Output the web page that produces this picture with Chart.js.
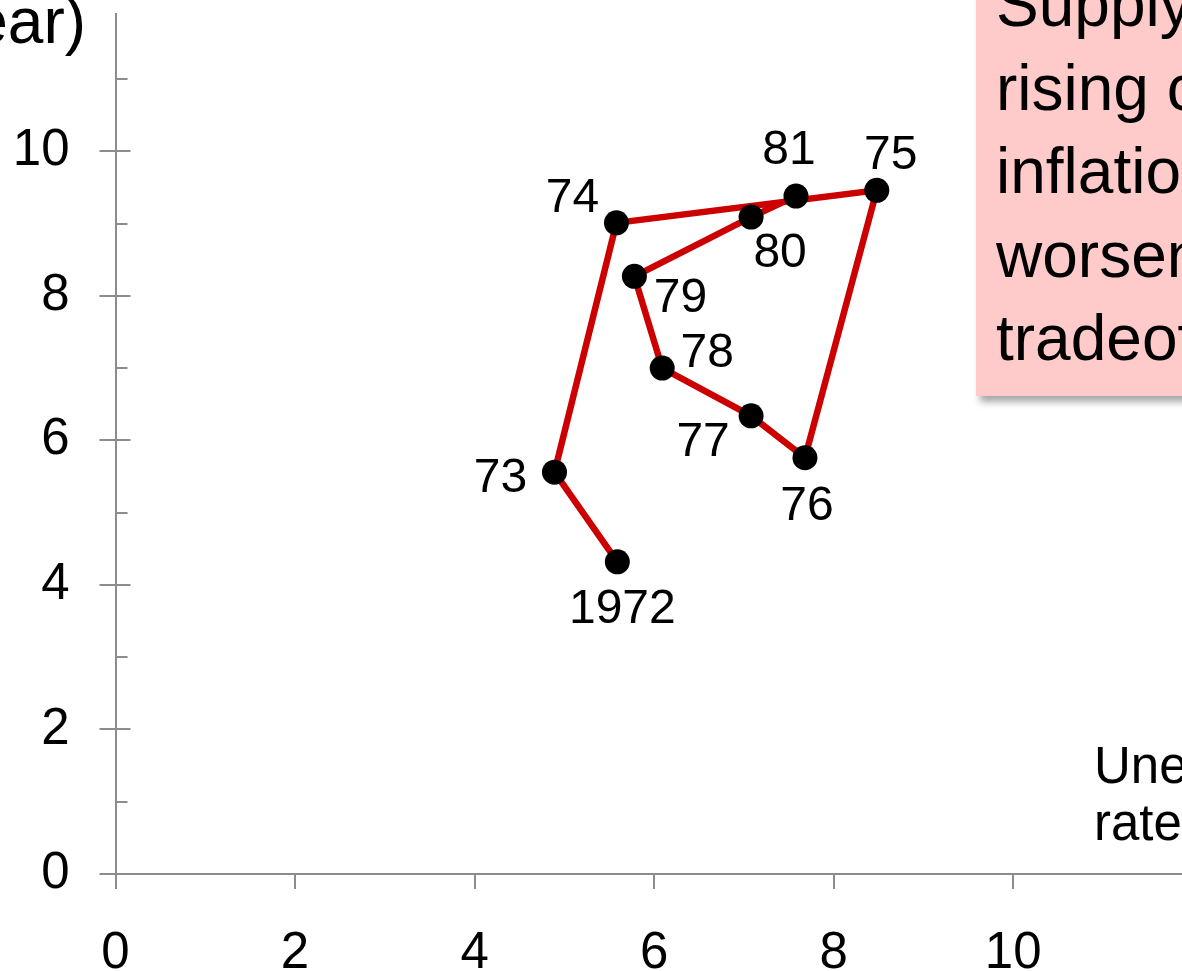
<!DOCTYPE html>
<html>
<head>
<meta charset="utf-8">
<title>Inflation and unemployment, 1972–81</title>
<script src="https://cdn.jsdelivr.net/npm/chart.js@4.4.1/dist/chart.umd.min.js"></script>
<style>
  html, body { margin: 0; padding: 0; background: #ffffff; overflow: hidden; }
  #wrap { position: relative; width: 1182px; height: 971px; overflow: hidden; }
  #chart { position: absolute; left: 0; top: 0; }
  .txt { position: absolute; font-family: "Liberation Sans", Arial, sans-serif; color: #000; white-space: nowrap; }
  #ytitle { right: 1096px; top: -15px; font-size: 64px; line-height: 72px; text-align: right; }
  #xtitle { left: 1094px; top: 737px; font-size: 51px; line-height: 57px; }
  #note {
    position: absolute; left: 976px; top: -120px; width: 420px; height: 516px;
    background: #ffcaca; box-shadow: 4px 6px 7px rgba(0,0,0,0.35);
  }
  #notetext { left: 996px; top: -37px; font-size: 64px; line-height: 83.5px; }
</style>
</head>
<body>
<div id="wrap">
  <canvas id="chart" width="1182" height="971"></canvas>
  <div id="ytitle" class="txt">Inflation rate (% per year)</div>
  <div id="xtitle" class="txt">Unemployment<br>rate (%)</div>
  <div id="note"></div>
  <div id="notetext" class="txt">Supply shocks:<br>rising costs,<br>inflation and<br>worsening<br>tradeoff</div>
</div>
<script>
// Years shown beside each point
const years = ['1972', '73', '74', '75', '76', '77', '78', '79', '80', '81'];
// Unemployment rate (%), x values
const unemployment = [5.59, 4.89, 5.58, 8.48, 7.68, 7.08, 6.09, 5.78, 7.08, 7.58];
// Inflation rate (% per year), y values
const inflation = [4.32, 5.56, 9.01, 9.46, 5.76, 6.34, 7.00, 8.27, 9.09, 9.38];
// Axis tick values
const xTicks = [0, 2, 4, 6, 8, 10];
const yTicks = [0, 2, 4, 6, 8, 10];
const yMinorTicks = [1, 3, 5, 7, 9, 11];

// Where each year label sits relative to its point (px)
const labelOffsets = [[5, 46], [-54, 5], [-44, -26], [14, -37], [2, 47],
                      [-48, 25], [45, -16], [46, 20], [29, 35], [-7, -47]];

const FONT = '"Liberation Sans", Arial, sans-serif';
const AXIS_GREY = '#8c8c8c';

const points = unemployment.map((u, i) => ({ x: u, y: inflation[i] }));

// Fixed axis box sizes, no extra padding for edge labels
function fixSize(prop, size) {
  return s => {
    s[prop] = size;
    s.paddingTop = 0; s.paddingBottom = 0; s.paddingLeft = 0; s.paddingRight = 0;
  };
}

// Tick marks: majors cross the y axis, minors sit inside, x ticks hang below
const tickMarks = {
  id: 'tickMarks',
  afterDraw(chart) {
    const { ctx, scales: { x, y } } = chart;
    const ax = x.getPixelForValue(0);
    const ay = y.getPixelForValue(0);
    ctx.save();
    ctx.strokeStyle = AXIS_GREY;
    ctx.lineWidth = 2;
    ctx.beginPath();
    yTicks.forEach(v => {
      const py = Math.round(y.getPixelForValue(v));
      ctx.moveTo(ax - 16, py); ctx.lineTo(ax + 15, py);
    });
    yMinorTicks.forEach(v => {
      const py = Math.round(y.getPixelForValue(v));
      ctx.moveTo(ax, py); ctx.lineTo(ax + 12, py);
    });
    xTicks.forEach(v => {
      const px = Math.round(x.getPixelForValue(v));
      ctx.moveTo(px, ay); ctx.lineTo(px, ay + 15);
    });
    ctx.stroke();
    ctx.restore();
  }
};

// Year labels next to each point
const yearLabels = {
  id: 'yearLabels',
  afterDatasetsDraw(chart) {
    const { ctx } = chart;
    const meta = chart.getDatasetMeta(0);
    ctx.save();
    ctx.fillStyle = '#000';
    ctx.font = '48px ' + FONT;
    ctx.textAlign = 'center';
    ctx.textBaseline = 'middle';
    meta.data.forEach((el, i) => {
      const [dx, dy] = labelOffsets[i];
      ctx.fillText(years[i], el.x + dx, el.y + dy + 2);
    });
    ctx.restore();
  }
};

new Chart(document.getElementById('chart'), {
  type: 'scatter',
  data: {
    datasets: [{
      data: points,
      showLine: true,
      borderColor: '#cc0000',
      borderWidth: 6.5,
      pointRadius: 12.5,
      pointHoverRadius: 12.5,
      pointBackgroundColor: '#000',
      pointBorderWidth: 0,
      clip: false
    }]
  },
  options: {
    responsive: false,
    animation: false,
    events: [],
    layout: { autoPadding: false, padding: { top: 14, right: 0, left: 0, bottom: 0 } },
    plugins: { legend: { display: false }, tooltip: { enabled: false } },
    scales: {
      x: {
        type: 'linear',
        min: 0,
        max: 11.88,
        afterBuildTicks: s => { s.ticks = xTicks.map(v => ({ value: v })); },
        afterFit: fixSize('height', 97),
        grid: { display: false, drawTicks: false },
        border: { display: true, color: AXIS_GREY, width: 2 },
        ticks: { color: '#000', font: { family: FONT, size: 51 }, padding: 49, maxRotation: 0, autoSkip: false }
      },
      y: {
        type: 'linear',
        min: 0,
        max: 11.9,
        afterBuildTicks: s => { s.ticks = yTicks.map(v => ({ value: v })); },
        afterFit: fixSize('width', 115.5),
        grid: { display: false, drawTicks: false },
        border: { display: true, color: AXIS_GREY, width: 2 },
        ticks: { color: '#000', font: { family: FONT, size: 51 }, padding: 46, autoSkip: false }
      }
    }
  },
  plugins: [tickMarks, yearLabels]
});
</script>
</body>
</html>
